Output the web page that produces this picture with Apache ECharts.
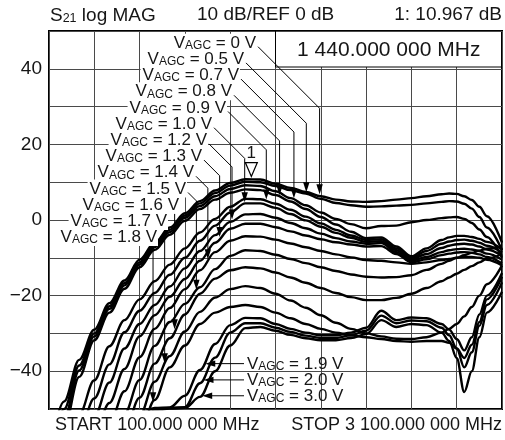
<!DOCTYPE html>
<html><head><meta charset="utf-8">
<script src="https://cdn.jsdelivr.net/npm/echarts@6/dist/echarts.min.js"></script>
<style>html,body{margin:0;padding:0;background:#fff}#c{width:505px;height:440px}</style>
</head><body><div id="c"></div>
<script>
// ---- data (MHz, dB) ----
const START = 100, STOP = 3100;
const freqs = [100,200,300,400,500,600,700,800,900,1000,1100,1200,1300,1400,1500,1600,1700,1800,1900,2000,2100,2200,2300,2400,2500,2600,2700,2750,2800,2850,2900,2950,3000,3100];
const v00 = [-62,-48,-37,-29,-22,-16,-10.5,-6,-2,1.8,5,7.8,9.8,10.8,10.7,9.6,8.5,7.4,6.3,5.4,4.9,4.8,5.0,5.4,5.8,6.3,6.8,7.0,6.9,6.3,5.3,3.5,1.0,-6];
const v05 = [-64,-50,-38.5,-30,-22.8,-16.7,-11.2,-6.6,-2.6,1.2,4.4,7.1,9.1,10.1,10.0,9.0,7.9,7.0,5.6,4.5,3.9,3.5,3.6,3.8,4.0,4.4,4.8,5.0,4.9,4.3,3.0,0.8,-2.0,-8];
const v07 = [-66,-52.5,-39.8,-30.8,-23.5,-17.3,-11.8,-7.2,-3.2,0.6,3.7,6.3,8.2,9.2,9.0,7.6,5.8,3.9,2.0,0.3,-1.1,-2.2,-1.6,-1.5,-0.6,0.0,0.5,0.7,0.8,0.3,-0.8,-2.5,-4.5,-10];
const v08 = [-68,-55,-41.5,-31.8,-24.5,-18.2,-12.5,-7.9,-3.9,-0.2,2.9,5.4,7.2,8.1,7.9,6.6,4.9,2.9,0.8,-1.2,-3.1,-4.8,-4.6,-7.0,-9.6,-7.5,-5.3,-4.6,-4.2,-4.2,-4.5,-5.0,-5.8,-7.8];
const v09 = [-72,-62,-51.5,-42.4,-33.4,-26.5,-21,-16.2,-11.8,-7.5,-3.3,0.3,3.5,5.6,5.5,4.3,2.7,0.9,-0.9,-2.6,-4.1,-5.3,-5.1,-7.5,-10.0,-8.2,-6.3,-5.7,-5.3,-5.2,-5.5,-6.0,-6.8,-8.6];
const v10 = [-74,-65,-56,-47.2,-38.2,-29.7,-24,-19.3,-14.5,-10,-5.5,-1.5,2,4.4,4.4,3.2,1.6,-0.1,-1.8,-3.4,-4.7,-5.8,-5.6,-8.0,-10.4,-9.0,-7.4,-6.8,-6.4,-6.3,-6.5,-7.0,-7.8,-9.5];
const v12 = [-78,-70,-61,-52,-43,-34,-27.5,-22.5,-17.6,-12.8,-8.2,-4,-0.5,1.5,1.6,0.6,-0.8,-2.2,-3.6,-4.8,-5.7,-6.3,-6.1,-8.5,-10.8,-9.8,-8.5,-8.0,-7.7,-7.6,-7.8,-8.2,-8.9,-10.5];
const v13 = [-82,-74,-66,-57,-48.4,-39.4,-30.8,-25.2,-20.3,-15.6,-10.8,-6,-2.3,-1.0,-1.0,-1.9,-3.0,-4.1,-5.1,-5.9,-6.5,-7.0,-6.9,-9.0,-11.2,-10.4,-9.3,-8.9,-8.6,-8.5,-8.7,-9.1,-9.8,-11.5];
const v14 = [-86,-78,-70,-62,-54,-45.3,-36.3,-28.8,-23.3,-18.3,-13.3,-8.5,-5.5,-4.3,-4.4,-5.2,-6.2,-7.2,-8.2,-9.1,-9.9,-10.6,-10.8,-11.2,-11.6,-11.2,-10.6,-10.3,-10.0,-9.8,-9.8,-10.0,-10.5,-12.0];
const v15 = [-90,-84,-76,-68,-60,-51.3,-42.3,-33.3,-27,-22.2,-17.8,-13,-9.5,-8.0,-8.2,-9.2,-10.3,-11.4,-12.5,-13.5,-14.4,-15.0,-15.2,-15.1,-14.6,-13.2,-11.6,-10.8,-10.0,-9.3,-8.7,-8.1,-7.6,-7.0];
const v16 = [-95,-88,-80,-72,-64,-56,-47,-38,-31.3,-25,-19.5,-15.5,-13.3,-12.5,-12.8,-13.9,-15.2,-16.6,-18.0,-19.3,-20.4,-21.2,-21.2,-20.6,-19.5,-18.0,-16.2,-15.2,-14.2,-13.2,-12.2,-11.2,-10.2,-9.0];
const v17 = [-100,-92,-84,-76,-68,-60,-51.8,-42.8,-36,-29.5,-24.3,-20.5,-18.3,-17.5,-18.0,-19.5,-21.3,-23.2,-25.2,-27.2,-28.8,-30.0,-30.8,-31.4,-31.5,-31.0,-29.8,-28.8,-27.5,-25.5,-23,-20,-17,-12];
const v18 = [-100,-94,-88,-80,-72,-64,-56.5,-47.6,-39,-33.2,-27.5,-24.5,-23,-22.5,-23.0,-24.5,-26.0,-27.5,-28.8,-29.8,-30.5,-31.0,-31.5,-32.0,-32.2,-32.0,-32.0,-32.5,-34,-36.5,-33,-27,-21,-15];
const v19 = [-100,-90,-80,-70,-62,-56,-51,-49.7,-49.6,-46.5,-39.7,-32.8,-27.8,-25.9,-26,-27.5,-28.8,-29.8,-30.5,-30.5,-29.8,-28.5,-24.0,-26.5,-25.8,-26.0,-27.5,-29,-31.5,-34.5,-31,-25,-20,-14];
const v20 = [-100,-90,-80,-70,-62,-57,-52,-50,-49.7,-49.5,-43.2,-36.4,-29.8,-27.3,-27.3,-28.5,-29.6,-30.6,-31.2,-31.2,-30.5,-29.3,-25.3,-27.3,-26.6,-26.8,-28.5,-30.5,-34,-39,-35,-28,-22.5,-16.5];
const v30 = [-100,-90,-80,-70,-62,-57,-53,-50.5,-49.9,-49.7,-46.8,-40,-33.2,-28.6,-28.3,-29.3,-30.4,-31.3,-31.8,-31.8,-31.2,-30.2,-26.5,-28.3,-27.5,-27.8,-29.8,-32,-36.5,-45.5,-40,-31,-24.5,-19];
const vagc = ['0','0.5','0.7','0.8','0.9','1.0','1.2','1.3','1.4','1.5','1.6','1.7','1.8','1.9','2.0','3.0'];
const curves = [v00,v05,v07,v08,v09,v10,v12,v13,v14,v15,v16,v17,v18,v19,v20,v30];
const yTickLabels = [40,20,0,-20,-40];
const markerFreq = 1440, markerDb = 10.967;
const arrowFreqs = [1892,1804,1722,1627,1539,1396,1312,1230,1152,1076,932,866,789]; // labels 0..1.8
const lowArrowDb = [-38,-42.3,-46.5]; // labels 1.9, 2.0, 3.0
const headerTexts = ['S21 log MAG','10 dB/REF 0 dB','1: 10.967 dB'];
const markerText = '1 440.000 000 MHz';
const startText = 'START 100.000 000 MHz', stopText = 'STOP 3 100.000 000 MHz';

// ---- layout ----
const FONT = '"Liberation Sans", Arial, Helvetica, sans-serif';
const TXT = '#161616';
const labelRightX = [257,245,240,233,227,213,208,203,195,187,180,168,158];
const labelTop = 42.7, labelStep = 16.2;

const chart = echarts.init(document.getElementById('c'), null, {renderer:'canvas'});
const gridLine = {show:true, lineStyle:{color:'#4a4a4a', width:1}};
chart.setOption({
  animation:false,
  grid:{left:49, right:3, top:31, bottom:31, show:true, borderColor:'#000', borderWidth:2, backgroundColor:'#fff'},
  xAxis:{type:'value', min:0, max:STOP-START, interval:300, axisLine:{show:false}, axisTick:{show:false}, axisLabel:{show:false}, splitLine:gridLine},
  yAxis:{type:'value', min:-50, max:50, interval:10, axisLine:{show:false}, axisTick:{show:false},
    axisLabel:{margin:7, fontSize:19, color:TXT, fontFamily:FONT,
      formatter:v=> yTickLabels.indexOf(v)>=0 ? (v<0 ? '\u2212'+(-v) : String(v)) : ''},
    splitLine:gridLine},
  series: curves.map((c,i)=>({type:'line', name:vagc[i], data:freqs.map((f,j)=>[f-START,c[j]]),
    smooth:0.35, smoothMonotone:'x', symbol:'none', clip:true, z:3,
    lineStyle:{color:'#000', width:2.4}}))
});

function P(f,db){ return chart.convertToPixel({gridIndex:0},[f-START,db]); }
function dbAt(c,f){ for(let j=0;j<freqs.length-1;j++){ if(f>=freqs[j]&&f<=freqs[j+1]){ const t=(f-freqs[j])/(freqs[j+1]-freqs[j]); return c[j]+t*(c[j+1]-c[j]); } } return c[c.length-1]; }
function fAt(c,db){ for(let j=0;j<freqs.length-1;j++){ if(c[j]<=db&&c[j+1]>=db){ return freqs[j]+(db-c[j])/(c[j+1]-c[j])*(freqs[j+1]-freqs[j]); } } return freqs[0]; }

function agcLabel(v){ return '{v|V}{s|AGC}{t| = '+v+' V}'; }
const rich = {v:{fontSize:17, fontFamily:FONT, lineHeight:18, verticalAlign:'bottom', fill:TXT},
              s:{fontSize:12, fontFamily:FONT, lineHeight:12.5, verticalAlign:'bottom', fill:TXT},
              t:{fontSize:17, fontFamily:FONT, lineHeight:18, verticalAlign:'bottom', fill:TXT}};
const g = [];
g.push({type:'text', x:50, y:15, z:100, style:{text:'{a|S}{b|21}{a| log MAG}', rich:{a:{fontSize:19,fontFamily:FONT,lineHeight:20,verticalAlign:'bottom',fill:TXT}, b:{fontSize:12.5,fontFamily:FONT,lineHeight:13,verticalAlign:'bottom',fill:TXT}}, align:'left', verticalAlign:'middle'}});
g.push({type:'text', x:197, y:15, z:100, style:{text:headerTexts[1], font:'19px '+FONT, fill:TXT, align:'left', verticalAlign:'middle'}});
g.push({type:'text', x:502, y:15, z:100, style:{text:headerTexts[2], font:'19px '+FONT, fill:TXT, align:'right', verticalAlign:'middle'}});
g.push({type:'text', x:55, y:425, z:100, style:{text:startText, font:'18px '+FONT, fill:TXT, align:'left', verticalAlign:'middle'}});
g.push({type:'text', x:502, y:425, z:100, style:{text:stopText, font:'18px '+FONT, fill:TXT, align:'right', verticalAlign:'middle'}});
const bl = P(1600,50), br = P(STOP,50);
g.push({type:'rect', z:50, shape:{x:bl[0], y:bl[1]+1, width:br[0]-bl[0]-1, height:35}, style:{fill:'#fff', stroke:null}});
g.push({type:'polyline', z:51, shape:{points:[[bl[0],bl[1]],[bl[0],bl[1]+36],[br[0],bl[1]+36]]}, style:{stroke:'#000', lineWidth:1, fill:null}});
g.push({type:'text', z:52, x:(bl[0]+br[0])/2, y:bl[1]+19, style:{text:markerText, font:'21px '+FONT, fill:TXT, align:'center', verticalAlign:'middle'}});
const mk = P(markerFreq, markerDb);
g.push({type:'polygon', z:60, shape:{points:[[mk[0]-6,mk[1]-16],[mk[0]+6,mk[1]-16],[mk[0],mk[1]-2]]}, style:{fill:'#fff', stroke:'#000', lineWidth:1.2}});
g.push({type:'text', z:60, x:mk[0], y:mk[1]-25, style:{text:'1', font:'17px '+FONT, fill:TXT, align:'center', verticalAlign:'middle'}});
for(let i=0;i<arrowFreqs.length;i++){
  const xr = labelRightX[i], yc = labelTop + i*labelStep;
  const tip = P(arrowFreqs[i], dbAt(curves[i], arrowFreqs[i]));
  const tx = tip[0], ty = tip[1]-1.5;
  let pts;
  const sx = xr+1, sy = yc+4;
  if (tx > sx) pts = [[sx,sy],[tx, sy+(tx-sx)],[tx, ty-9]];
  else pts = [[tx, yc+9],[tx, ty-9]];
  g.push({type:'polyline', z:90, shape:{points:pts}, style:{stroke:'#000', lineWidth:1, fill:null}});
  g.push({type:'polygon', z:90, shape:{points:[[tx-3.2,ty-10],[tx+3.2,ty-10],[tx,ty]]}, style:{fill:'#000'}});
  g.push({type:'text', z:95, x:xr, y:yc, style:{text:agcLabel(vagc[i]), rich:rich, align:'right', verticalAlign:'middle', backgroundColor:'#fff', padding:[0,1,0,2]}});
}
for(let k=0;k<3;k++){
  const i = 13+k;
  const db = lowArrowDb[k];
  const tip = P(fAt(curves[i], db), db);
  const tx = tip[0]+1.5, ty = tip[1];
  const lx = 247;
  g.push({type:'line', z:90, shape:{x1:lx-3, y1:ty, x2:tx+9, y2:ty}, style:{stroke:'#000', lineWidth:1}});
  g.push({type:'polygon', z:90, shape:{points:[[tx+10,ty-3.2],[tx+10,ty+3.2],[tx,ty]]}, style:{fill:'#000'}});
  g.push({type:'text', z:95, x:lx, y:ty, style:{text:agcLabel(vagc[i]), rich:rich, align:'left', verticalAlign:'middle'}});
}
chart.setOption({graphic:g});
</script></body></html>
